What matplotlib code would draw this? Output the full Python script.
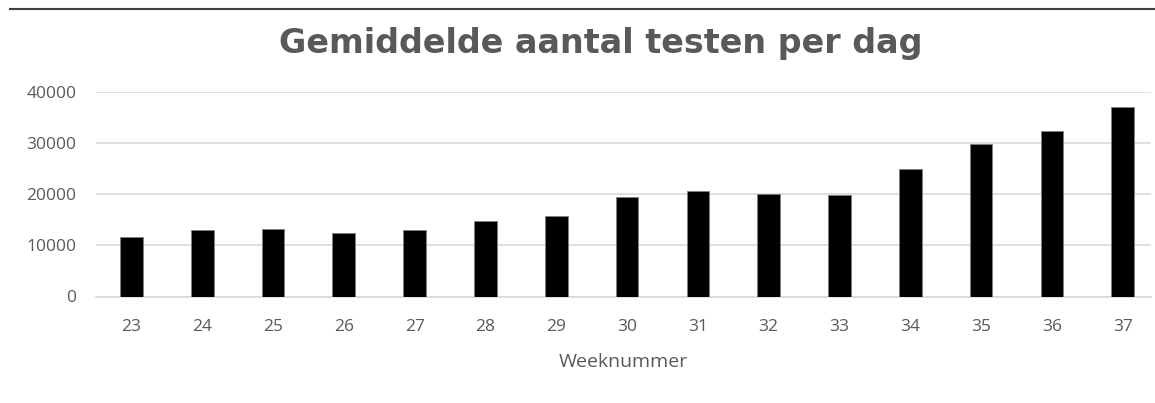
import matplotlib
matplotlib.use("Agg")
import matplotlib.pyplot as plt
from matplotlib.lines import Line2D

weeks = ["23", "24", "25", "26", "27", "28", "29", "30", "31", "32", "33", "34", "35", "36", "37"]
tests = [11700, 13000, 13200, 12400, 13000, 14800, 15700, 19400, 20700, 20000, 19800, 25000, 29800, 32400, 37100]

W, H = 1155, 403
fig = plt.figure(figsize=(W / 100, H / 100), dpi=100)
# axes in pixel coordinates: left 96, right 1151, bottom (y=0) 296.5, top (y=40000) 92
left, right, top, bottom = 96, 1151, 92, 296.5
ax = fig.add_axes([left / W, 1 - bottom / H, (right - left) / W, (bottom - top) / H])

x = list(range(len(weeks)))
ax.bar(x, tests, width=0.32, color="black", edgecolor="#7f7f7f", linewidth=0.6, zorder=3)

ax.set_ylim(0, 40000)
ax.set_xlim(-0.5, 14.4)
ax.set_yticks([0, 10000, 20000, 30000, 40000])
ax.set_yticklabels(["0", "10000", "20000", "30000", "40000"])
ax.set_xticks(x)
ax.set_xticklabels(weeks)
ax.grid(axis="y", color="#d9d9d9", linewidth=1.2, zorder=0)
ax.set_axisbelow(True)
for s in ["top", "right", "left"]:
    ax.spines[s].set_visible(False)
ax.spines["bottom"].set_color("#d9d9d9")
ax.spines["bottom"].set_linewidth(1.2)
ax.tick_params(axis="both", length=0, labelsize=12.5, labelcolor="#595959")
ax.tick_params(axis="y", pad=14)
ax.tick_params(axis="x", pad=16)
for lab in ax.get_xticklabels() + ax.get_yticklabels():
    lab.set_fontfamily("Open Sans")

ax.set_xlabel("Weeknummer", fontsize=14, color="#595959", fontfamily="Open Sans", labelpad=13)

fig.text(601 / W, 1 - 44 / H, "Gemiddelde aantal testen per dag", ha="center", va="center",
         fontsize=24, fontweight="bold", color="#595959", fontfamily="DejaVu Sans")

fig.add_artist(Line2D([10 / W, 1.0], [1 - 8.5 / H, 1 - 8.5 / H], color="#404040", linewidth=1.5,
                      transform=fig.transFigure))

fig.savefig("out.png", dpi=100, facecolor="white")
